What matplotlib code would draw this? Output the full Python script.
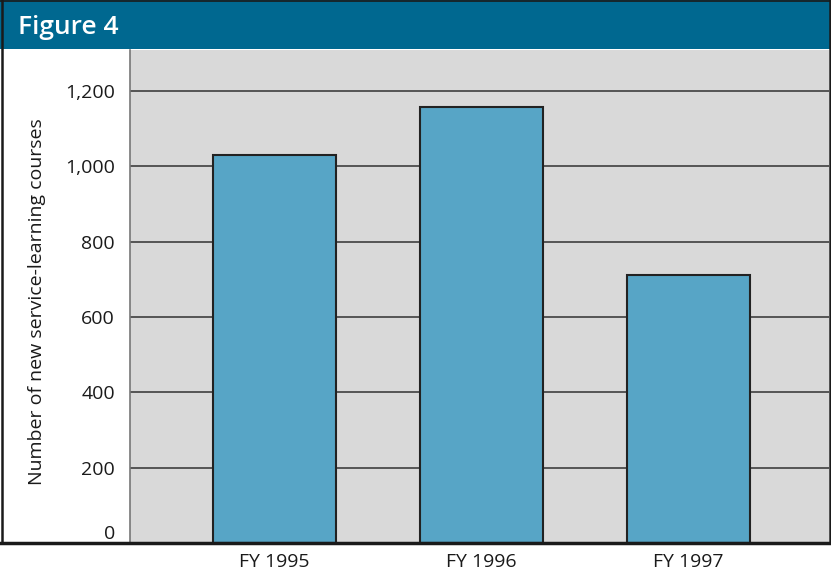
import matplotlib
matplotlib.use("Agg")
import matplotlib.pyplot as plt
from matplotlib.lines import Line2D
from matplotlib.patches import Rectangle

categories = ["FY 1995", "FY 1996", "FY 1997"]
values = [1031, 1157, 712]
yticks = [0, 200, 400, 600, 800, 1000, 1200]
ytick_labels = ["0", "200", "400", "600", "800", "1,000", "1,200"]

plt.rcParams['font.family'] = ['Open Sans', 'DejaVu Sans']

W, H = 831, 576
fig = plt.figure(figsize=(W / 100, H / 100), dpi=100)
fig.patch.set_facecolor('white')

# header band
fig.patches.append(Rectangle((0, 1 - 49 / H), 1, 49 / H, transform=fig.transFigure,
                             facecolor='#006890', edgecolor='none', zorder=0))
fig.text(18 / W, 1 - 27 / H, "Figure 4", color='white', fontsize=19, fontweight='semibold',
         va='center', ha='left')

ax = fig.add_axes([130 / W, 33 / H, (829 - 130) / W, (543 - 50) / H])
ax.set_facecolor('#d9d9d9')
x = list(range(len(categories)))
ax.bar(x, values, width=0.594, color='#57a5c6', edgecolor='#222222', linewidth=1.5, zorder=3)
ax.set_xlim(-0.698, 2.679)
ax.set_ylim(0, 1309)
ax.set_yticks(yticks)
ax.set_yticklabels(ytick_labels)
ax.set_xticks(x)
ax.set_xticklabels(categories)
ax.get_yticklabels()[0].set_va('bottom')
ax.yaxis.grid(True, color='#555555', linewidth=1.4, zorder=1)
ax.set_axisbelow(True)
ax.tick_params(axis='both', length=0, labelsize=14, colors='#1a1a1a')
ax.tick_params(axis='y', pad=10.8)
ax.tick_params(axis='x', pad=7)
for s in ['top', 'right', 'bottom']:
    ax.spines[s].set_visible(False)
ax.spines['left'].set_color('#777777')
ax.spines['left'].set_linewidth(1.2)
ax.set_ylabel("Number of new service-learning courses", fontsize=14, color='#1a1a1a', labelpad=0)
ax.yaxis.set_label_coords(-(130 - 46) / (829 - 130), 0.49)

# figure frame lines
fig.add_artist(Line2D([0, 1], [1 - 543 / H, 1 - 543 / H], transform=fig.transFigure,
                      color='#1a1a1a', linewidth=2.5, zorder=5))
fig.add_artist(Line2D([2 / W, 2 / W], [1 - 543 / H, 1], transform=fig.transFigure,
                      color='#1a1a1a', linewidth=1.8, zorder=5))
fig.add_artist(Line2D([829.5 / W, 829.5 / W], [1 - 543 / H, 1], transform=fig.transFigure,
                      color='#1a1a1a', linewidth=1.8, zorder=5))
fig.add_artist(Line2D([0, 1], [1 - 0.8 / H, 1 - 0.8 / H], transform=fig.transFigure,
                      color='#1a1a1a', linewidth=1.2, zorder=5))

fig.savefig("out.png", dpi=100, facecolor='white')
